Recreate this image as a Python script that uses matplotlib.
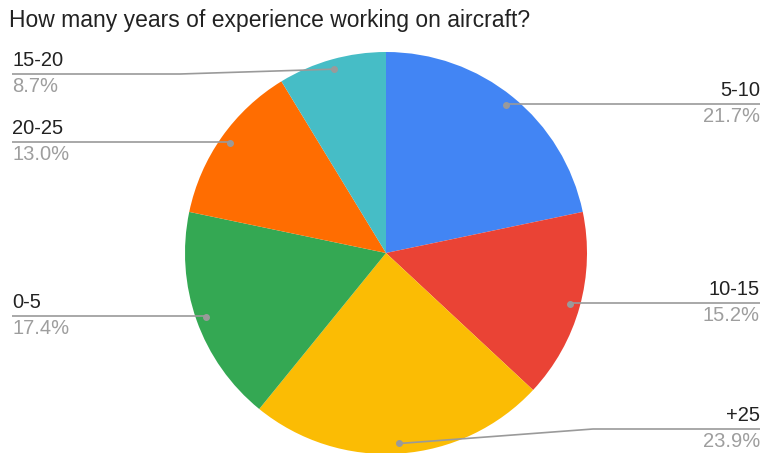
import numpy as np
import matplotlib.pyplot as plt

plt.rcParams['font.family'] = ['Liberation Sans', 'DejaVu Sans']

labels = ['5-10', '10-15', '+25', '0-5', '20-25', '15-20']
shares = [21.7, 15.2, 23.9, 17.4, 13.0, 8.7]
colors = ['#4285F4', '#EA4335', '#FBBC04', '#34A853', '#FF6D01', '#46BDC6']

W, H = 764, 453
fig = plt.figure(figsize=(W / 100, H / 100), dpi=100)
ax = fig.add_axes([0, 0, 1, 1])

cx, cy, r = 386, H - 253, 201
ax.pie(shares, colors=colors, startangle=90, counterclock=False,
       center=(cx, cy), radius=r, wedgeprops=dict(linewidth=0), frame=True)
ax.set_xlim(0, W)
ax.set_ylim(0, H)
ax.set_aspect('equal')
ax.axis('off')

# leader line rows in pixels from the top, plus elbow x where the line bends
line_y = {'5-10': 104, '10-15': 303, '+25': 429, '0-5': 316, '20-25': 142, '15-20': 74}
knee_x = {'+25': 593, '15-20': 180}

total = sum(shares)
start = 0.0
for lab, val in zip(labels, shares):
    mid = (start + val / 2) / total * 2 * np.pi
    start += val
    dx, dy = cx + 0.95 * r * np.sin(mid), cy + 0.95 * r * np.cos(mid)
    ly = H - line_y[lab]
    right = np.sin(mid) > 0
    end = 760 if right else 12
    kx = knee_x.get(lab, dx)
    ax.plot([dx, kx, end], [dy, ly, ly], color='#9a9a9a', lw=1.2,
            solid_capstyle='butt')
    ax.plot(dx, dy, 'o', color='#9a9a9a', ms=4)
    ha = 'right' if right else 'left'
    ax.text(end, ly + 4, lab, ha=ha, va='bottom', fontsize=14.5, color='#222222')
    ax.text(end, ly - 3, f'{val:.1f}%', ha=ha, va='top', fontsize=14.5,
            color='#9e9e9e')

fig.text(9 / W, 1 - 20 / H, 'How many years of experience working on aircraft?',
         ha='left', va='center', fontsize=16.5, color='#222222')

fig.savefig('out.png', dpi=100)
